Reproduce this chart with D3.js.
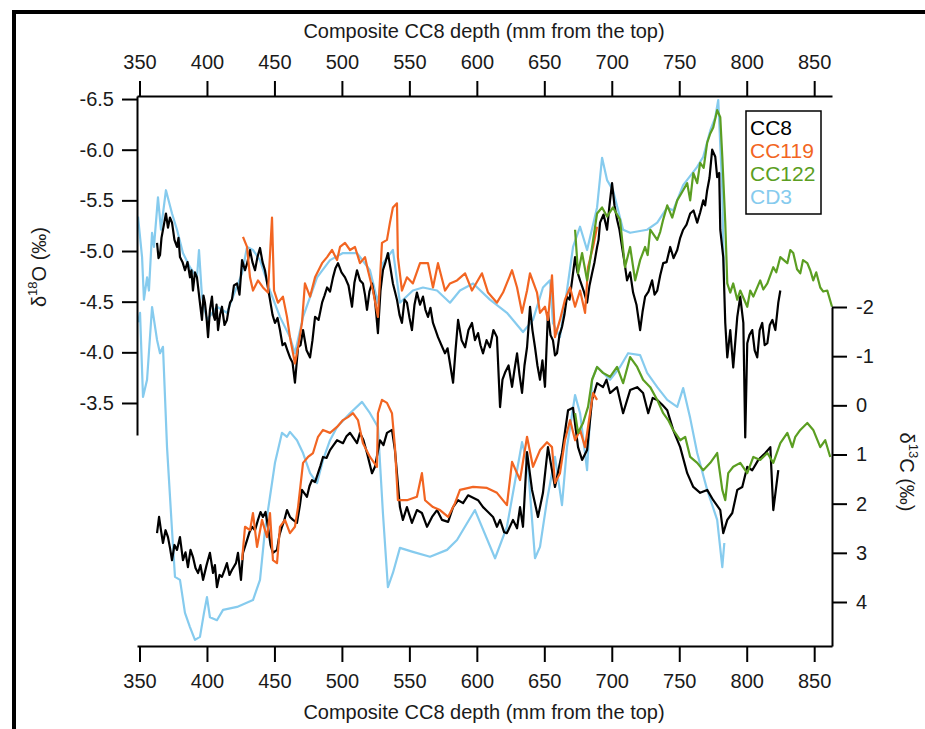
<!doctype html>
<html lang="en">
<head>
<meta charset="UTF-8">
<title>CC8 composite isotopes</title>
<script src="https://d3js.org/d3.v7.min.js"></script>
<style>
  body { margin: 0; background: #fff; }
  svg text { font-family: "Liberation Sans", Arial, sans-serif; fill: #1a1a1a; }
</style>
</head>
<body>
<div id="chart"></div>
<script>
// [depth (mm), value]
const cd3_d18O = [[348.9,-5.34],[351.9,-4.94],[353.3,-4.52],[355.6,-4.74],[357,-4.61],[359.3,-5.18],[360.7,-5.04],[363.7,-5.53],[365.9,-5.21],[369.6,-5.6],[374.1,-5.37],[377.8,-5.21],[382.2,-4.98],[387.4,-4.84],[392.6,-4.74],[394.1,-5.01],[396.3,-4.55],[400,-4.32],[407.4,-4.45],[414.8,-4.39],[419.3,-4.55],[426,-4.78],[429.7,-5.04],[434.1,-5.01],[439.3,-4.91],[446.7,-4.61],[454.1,-4.35],[461.5,-4.15],[465.2,-3.99],[471.2,-4.35],[481.6,-4.74],[491.2,-4.91],[500.8,-4.98],[511.2,-4.98],[520.8,-4.81],[526.7,-4.49],[530.4,-4.88],[537.8,-5.01],[543,-4.49],[552.6,-4.61],[560.1,-4.64],[570.5,-4.61],[580.1,-4.49],[587.5,-4.61],[597.2,-4.68],[609.7,-4.52],[622.3,-4.39],[634.2,-4.2],[641.6,-4.32],[649,-4.64],[654.2,-4.71],[656.4,-4.29],[661.6,-4.15],[666.8,-4.61],[671.3,-5.04],[676.5,-5.24],[681.7,-5.01],[689.1,-5.43],[692.8,-5.92],[696.5,-5.7],[700.9,-5.6],[708.4,-5.21],[713.6,-5.18],[726.2,-5.21],[733.7,-5.28],[741.1,-5.43],[745.5,-5.4],[752.9,-5.65],[763.3,-5.83],[767.8,-5.93],[773,-6.19],[776.7,-6.32],[778.9,-6.49],[781.9,-5.6],[782.6,-5.04],[783.4,-4.71]];

const cc8_d18O = [[363,-5.08],[364.1,-4.93],[365.2,-4.96],[366.3,-5.13],[367.4,-5.21],[368.5,-5.29],[369.6,-5.37],[371.1,-5.23],[372.6,-5.33],[374.1,-5.28],[375.9,-5.11],[377.8,-5.04],[378.9,-5.13],[380,-4.94],[381.9,-4.89],[383.7,-4.81],[385.6,-4.89],[387.4,-4.74],[388.5,-4.81],[389.6,-4.61],[391.1,-4.79],[392.6,-4.74],[394.5,-4.52],[396.3,-4.32],[397.4,-4.56],[398.5,-4.49],[399.7,-4.34],[400.8,-4.15],[402.2,-4.42],[403.7,-4.55],[404.8,-4.37],[405.9,-4.32],[407.1,-4.47],[408.2,-4.22],[409.7,-4.37],[411.1,-4.45],[413,-4.27],[414.8,-4.32],[416,-4.42],[417.1,-4.49],[418.5,-4.52],[420,-4.66],[422.3,-4.68],[424.1,-4.57],[426,-4.91],[428.2,-4.81],[430,-4.89],[431.9,-5.01],[433.7,-4.89],[435.6,-4.81],[437.4,-4.94],[439.3,-5.03],[441.2,-4.89],[443,-4.81],[444.9,-4.66],[446.7,-4.52],[448.6,-4.37],[450.4,-4.29],[452.3,-4.34],[454.1,-4.22],[456,-4.07],[457.8,-4.09],[459.6,-4.02],[461.5,-3.95],[463.4,-3.9],[465.2,-3.7],[467.5,-4.05],[469.3,-4.07],[471.2,-4.22],[473.8,-4.02],[476.4,-3.95],[478.2,-4.12],[480.1,-4.35],[482.7,-4.32],[485.3,-4.49],[487.1,-4.56],[489,-4.64],[491.2,-4.6],[493.4,-4.74],[495.2,-4.83],[497.1,-4.88],[499.7,-4.79],[502.3,-4.74],[504.9,-4.66],[507.5,-4.45],[509.3,-4.69],[511.2,-4.81],[513.4,-4.71],[515.6,-4.68],[517.1,-4.57],[518.6,-4.42],[520.4,-4.6],[522.3,-4.68],[524.5,-4.52],[526.7,-4.19],[528.6,-4.61],[530.4,-4.81],[532.3,-4.89],[534.1,-4.98],[536,-4.83],[537.8,-4.68],[539.3,-4.6],[540.8,-4.52],[542.7,-4.37],[544.5,-4.29],[546.4,-4.52],[548.2,-4.49],[550.1,-4.34],[551.9,-4.22],[553.8,-4.47],[555.6,-4.59],[557.9,-4.47],[560.1,-4.55],[561.9,-4.42],[563.8,-4.35],[565.6,-4.44],[567.5,-4.29],[569.4,-4.22],[571.2,-4.15],[573.8,-4.07],[576.4,-3.99],[578.3,-4.04],[580.1,-3.89],[582.4,-3.7],[584.2,-4.02],[586.1,-4.32],[588.7,-4.12],[591.3,-4.05],[593.8,-4.22],[596.4,-4.29],[598.6,-4.12],[600.9,-4.19],[602.7,-4.07],[604.6,-3.99],[607.2,-4.12],[609.7,-4.05],[612.3,-4.22],[614.9,-4.15],[617.2,-3.46],[619,-3.73],[620.9,-3.8],[623.5,-3.87],[626.1,-3.66],[627.9,-3.83],[629.8,-3.99],[631.6,-3.78],[633.5,-3.6],[635.3,-3.87],[637.2,-4.05],[639.4,-4.45],[641.2,-4.22],[643.1,-4.05],[644.9,-3.87],[646.8,-3.73],[648.6,-3.92],[650.5,-3.66],[652.7,-4.39],[654.6,-4.17],[656.4,-4.12],[657.9,-3.97],[659.4,-3.99],[661.2,-4.17],[663.1,-4.25],[664.9,-4.37],[666.8,-4.55],[668.7,-4.52],[670.6,-4.71],[672.8,-4.94],[674.6,-4.79],[676.5,-4.71],[679.1,-4.61],[681.7,-4.49],[683.5,-4.66],[685.4,-4.78],[687.2,-4.89],[689.1,-5.04],[690.2,-5.11],[691.3,-5.28],[693.9,-5.36],[696.5,-5.21],[698.3,-5.45],[700.2,-5.67],[702,-5.45],[703.9,-5.31],[705.7,-5.21],[707.6,-5.04],[709.4,-4.89],[711.3,-4.71],[713.6,-4.79],[715.8,-4.59],[718.3,-4.47],[721,-4.22],[722.8,-4.4],[724.7,-4.55],[727.2,-4.6],[729.9,-4.71],[731.7,-4.57],[733.7,-4.61],[735.9,-4.76],[738.1,-4.88],[740.6,-4.89],[743.3,-5.04],[745.8,-4.93],[748.5,-5.01],[750.7,-5.13],[752.9,-5.21],[755.4,-5.26],[758.1,-5.37],[760.6,-5.4],[763.3,-5.28],[765.5,-5.38],[767.8,-5.5],[769.2,-5.45],[770.7,-5.6],[772.4,-5.72],[774.4,-6],[776.7,-5.93],[778.1,-5.73],[779.6,-5.77],[780.4,-5.21],[782.6,-4.94],[784.1,-4.29],[785.6,-3.95],[787.8,-4.22],[790,-3.85],[793,-4.35],[795.2,-4.55],[797.5,-4.29],[798.9,-3.16],[800.4,-4.09],[802,-4.17],[804.1,-4.22],[805.9,-4.02],[807.8,-3.95],[809.6,-4.22],[811.5,-4.29],[813.3,-4.07],[815.3,-4.09],[817.1,-4.27],[819,-4.32],[821.2,-4.22],[823.4,-4.49],[824.9,-4.61]];

const cc119_d18O = [[426.7,-5.14],[429.7,-5.04],[431.9,-4.74],[434.1,-4.61],[437.8,-4.71],[441.5,-4.64],[445.2,-4.59],[448.2,-5.33],[449.7,-4.61],[452.6,-4.49],[456.3,-4.55],[459.3,-4.35],[461.5,-4.15],[465.2,-3.89],[467.5,-4.05],[470.4,-4.29],[472.6,-4.68],[476.4,-4.55],[480.1,-4.74],[485.3,-4.88],[489,-4.94],[492.7,-5.01],[496.4,-4.91],[498.6,-5.04],[502.3,-5.08],[506,-5.01],[509.7,-5.04],[513.4,-4.88],[517.1,-4.94],[519.3,-4.81],[523,-4.61],[526.7,-4.35],[529.7,-5.08],[533.4,-5.11],[535.6,-5.28],[537.8,-5.43],[540.8,-5.47],[541.5,-4.94],[544.5,-4.61],[548.2,-4.74],[552.6,-4.68],[557.9,-4.88],[563.8,-4.88],[567.5,-4.64],[571.2,-4.88],[576.4,-4.61],[580.1,-4.68],[585.3,-4.71],[591.3,-4.78],[596.4,-4.61],[603.8,-4.78],[608.3,-4.59],[614.9,-4.49],[619.4,-4.59],[626.1,-4.81],[629.8,-4.64],[633.5,-4.39],[637.2,-4.61],[639.4,-4.78],[644.6,-4.59],[646.8,-4.39],[650.5,-4.45],[652.7,-4.32],[655.7,-4.76],[657.9,-4.15],[661.6,-4.32],[665.3,-4.52],[669.1,-4.64],[672.8,-4.45],[676.5,-4.61],[680.2,-4.39],[682.4,-4.84],[686.1,-5.04],[689.1,-5.24]];

const cc122_d18O = [[672.8,-5.21],[675,-4.78],[678,-4.98],[681.7,-4.71],[685.4,-5.04],[689.1,-5.37],[692.8,-5.43],[696.5,-5.34],[700.9,-5.43],[706.1,-5.31],[709.8,-4.84],[713.6,-5.04],[717.3,-4.71],[721,-4.91],[724.7,-5.04],[726.6,-4.96],[728.5,-5.21],[733.7,-5.11],[735.9,-5.19],[738.1,-5.31],[741.1,-5.45],[744.8,-5.33],[748.5,-5.5],[752.9,-5.6],[755.9,-5.67],[758.1,-5.5],[760.4,-5.77],[763.3,-5.67],[765.5,-5.87],[768.1,-5.82],[770.7,-6.07],[773,-6.16],[775.2,-6.22],[778.1,-6.39],[780.4,-6.32],[781.9,-5.93],[784.1,-5.28],[785.6,-4.68],[787.8,-4.59],[790,-4.68],[793,-4.52],[795.2,-4.61],[800.4,-4.45],[802.6,-4.61],[804.9,-4.55],[810,-4.71],[812.3,-4.62],[815.3,-4.68],[819.7,-4.84],[821.9,-4.79],[824.9,-4.94],[830.1,-4.88],[832.3,-5.01],[834.5,-4.98],[837.3,-4.82],[839.7,-4.78],[841.7,-4.91],[844.9,-4.88],[847.1,-4.81],[849.3,-4.71],[851.5,-4.79],[854.5,-4.64],[856.7,-4.6],[859.7,-4.61],[863.2,-4.45]];

const cd3_d13C = [[348.9,-1.69],[350.4,-1.88],[352.6,-0.17],[355.6,-0.52],[359.3,-2],[363,-1.33],[365.2,-1.06],[367.4,-1.19],[370.4,0.85],[374.1,2.54],[376.3,3.49],[380,3.55],[383.7,4.22],[387.4,4.51],[391.1,4.77],[394.8,4.71],[397.8,4.22],[400,3.9],[402.2,4.31],[407.4,4.37],[411.9,4.16],[422.3,4.1],[434.1,3.96],[439.3,3.55],[443,2.54],[446.7,1.86],[450.4,1.17],[455.6,0.56],[459.3,0.64],[461.5,0.54],[466.7,0.71],[471.2,0.97],[476.4,1.38],[481.6,1.58],[486,1.11],[491.2,0.71],[496.4,0.44],[506,0.16],[514.9,-0.07],[520.8,0.16],[526.7,0.44],[530.4,2.19],[534.1,3.7],[537.8,3.41],[543,2.9],[552.6,2.98],[565.3,3.08],[577.9,2.94],[585.3,2.74],[598.6,2.13],[613.5,3.11],[622.3,2.47],[633.5,0.75],[637.9,1.25],[643.1,3.11],[646.8,2.88],[652,1.93],[657.9,1.05],[663.1,2.03],[666.8,0.85],[672.8,-0.21],[676.5,0.16],[681.7,1.32],[685.4,-0.52],[689.1,-0.78],[698.7,-0.52],[706.1,-0.78],[712.1,-1.06],[721,-1.02],[726.2,-0.66],[733.7,-0.37],[741.1,-0.11],[748.5,0.03],[752.9,-0.35],[758.1,0.26],[763.3,0.97],[770.7,1.72],[778.1,2.33],[781.9,3.29],[783.4,2.8]];

const cc8_d13C = [[363,2.6],[364.5,2.27],[365.9,2.54],[367.4,2.8],[369.3,2.54],[371.1,2.68],[372.6,2.9],[374.1,3.15],[375.9,2.84],[377.8,2.94],[380,2.68],[382.2,3.15],[384.1,2.99],[385.9,3.29],[387.8,2.94],[389.6,3.08],[391.5,3.31],[393.4,3.41],[395.2,3.25],[397.1,3.55],[399.7,3.25],[402.2,3],[404.5,3.41],[405.9,3.25],[407.4,3.7],[409.3,3.45],[411.1,3.49],[413,3.35],[414.8,3.21],[416.7,3.45],[418.5,3.35],[421.5,3.21],[423,3],[425.2,3.55],[426.7,3],[429.7,2.74],[431.5,2.58],[433.4,2.47],[435.6,2.54],[437.8,2.33],[439.7,2.17],[441.5,2.27],[443.4,2.17],[445.2,2.47],[447.1,2.84],[448.9,3],[451.9,2.94],[453.7,2.64],[455.6,2.47],[457.4,2.33],[459.3,2.13],[461.5,2.27],[463.8,2.33],[466.7,2.39],[468.9,2.03],[470.4,1.72],[474.1,1.86],[476,1.64],[477.8,1.52],[480.1,1.56],[482.3,1.38],[484.2,1.22],[486,1.05],[488.6,1.07],[491.2,0.91],[493.8,0.81],[496.4,0.71],[500.8,0.77],[503.4,0.63],[506,0.56],[511.2,0.77],[513.4,0.56],[516,0.71],[518.6,0.97],[522.3,1.38],[524.5,1.25],[528.2,0.71],[530.8,0.81],[533.4,0.56],[537.1,0.5],[539.3,0.91],[543,2.07],[545.2,2.33],[548.2,2.07],[551.9,2.39],[555.6,2.13],[559.3,2.19],[563.1,2.47],[566.8,2.27],[570.5,2.13],[574.2,2.33],[578.7,2.37],[582.4,2.07],[586.1,1.93],[589.8,1.99],[593.5,1.83],[597.2,1.88],[600.9,1.93],[604.6,2.07],[608.3,2.17],[612,2.27],[614.9,2.47],[617.2,2.33],[620.2,2.58],[622.3,2.6],[626.8,2.33],[629.8,2.5],[632,2.07],[634.2,2.47],[637.2,0.95],[640.9,1.72],[645.3,2.27],[649,1.78],[652.7,0.85],[657.9,1.66],[663.1,0.97],[667.6,0.1],[671.3,0.05],[675,0.85],[678,1.11],[681.7,0.91],[685.4,-0.11],[689.1,-0.45],[693.5,-0.37],[696.1,-0.52],[698.7,-0.25],[703.9,-0.37],[708.4,0.16],[713.6,-0.31],[718.8,-0.37],[723.2,-0.25],[727,0.16],[730.3,-0.15],[733.7,-0.11],[737.4,-0.01],[741.1,0.1],[745.5,0.5],[750.7,0.85],[755.9,1.38],[760.4,1.66],[765.5,1.78],[770.7,1.72],[775.2,1.93],[780.4,2.13],[782.6,2.6],[785.6,2.33],[789.3,2.19],[793,1.72],[796.7,1.66],[800.4,1.25],[804.1,1.32],[808.6,1.11],[813.8,0.97],[817.5,0.85],[819.7,2.13],[823.4,1.32]];

const cc119_d13C = [[426,3.15],[428.2,2.47],[431.9,2.54],[434.1,2.19],[437.1,2.88],[440.8,2.33],[444.5,2.68],[446.7,2.19],[448.9,3.15],[451.9,3.21],[454.1,2.47],[457.8,2.33],[461.5,2.6],[465.2,2.47],[467.5,2.07],[471.2,1.17],[474.9,1.05],[478.6,0.97],[482.3,0.64],[486,0.5],[491.2,0.56],[496.4,0.44],[500.8,0.3],[504.5,0.24],[508.2,0.16],[511.9,0.3],[515.6,0.77],[520.8,1.05],[526,1.25],[526.7,0.16],[529.7,-0.11],[533.4,-0.05],[537.1,0.16],[539.3,0.85],[541.5,1.93],[548.2,1.93],[555.6,1.86],[559.3,1.38],[561.6,1.93],[567.5,2.07],[572.7,2.13],[578.7,2.27],[583.8,1.99],[587.5,1.72],[597.2,1.66],[607.5,1.68],[614.9,1.78],[622.3,2.03],[626.1,1.15],[632,1.52],[637.2,0.64],[641.6,1.25],[646.8,0.91],[652,0.75],[655.7,0.85],[657.9,1.58],[661.6,1.38],[665.3,0.71],[669.1,0.3],[672.8,0.71],[676.5,0.5],[680.2,0.85],[683.9,0.16],[686.1,-0.25],[689.1,-0.11]];

const cc122_d13C = [[672.8,0.16],[675,0.56],[678.7,0.36],[682.4,0.03],[685.4,-0.52],[689.1,-0.78],[693.5,-0.66],[698.7,-0.58],[703.9,-0.78],[708.4,-0.45],[713.6,-0.98],[718.8,-0.78],[723.2,-0.52],[728.5,-0.37],[733.7,-0.11],[738.1,0.16],[741.8,0.3],[745.5,0.5],[750.7,0.71],[754.4,0.64],[758.1,1.05],[763.3,1.17],[767.8,1.32],[773,1.17],[778.1,0.97],[781.9,1.72],[784.1,1.93],[786.3,1.38],[790,1.25],[795.2,1.17],[800.4,1.38],[804.9,1.05],[810,1.11],[815.3,0.97],[819.7,1.17],[824.9,0.77],[830.1,0.56],[833.8,0.85],[836,0.64],[839.7,0.5],[844.9,0.36],[849.3,0.5],[854.5,0.85],[858.2,0.71],[861.9,1.05]];

const depthTicks = [350, 400, 450, 500, 550, 600, 650, 700, 750, 800, 850];
const d18OTicks = [-6.5, -6.0, -5.5, -5.0, -4.5, -4.0, -3.5];
const d13CTicks = [-2, -1, 0, 1, 2, 3, 4];
const seriesNames = ["CC8", "CC119", "CC122", "CD3"];
const seriesColors = ["#000000", "#f26522", "#5b9e22", "#86cbee"];

const W = 925, H = 729;
const svg = d3.select("#chart").append("svg")
  .attr("width", W)
  .attr("height", H);

// black frame round the figure
svg.append("rect")
  .attr("x", 14).attr("y", 12)
  .attr("width", W).attr("height", H)
  .attr("fill", "none")
  .attr("stroke", "#000")
  .attr("stroke-width", 4);

const x = d3.scaleLinear().domain([348.15, 863.2]).range([137, 832]);
const yO = d3.scaleLinear().domain([-6.53, -3.184]).range([96, 435]);
const yC = d3.scaleLinear().domain([-2, 4.895]).range([307, 646]);

const lineO = d3.line().x(d => x(d[0])).y(d => yO(d[1]));
const lineC = d3.line().x(d => x(d[0])).y(d => yC(d[1]));

// draw order: CD3 underneath, then CC8, CC119, CC122
const layers = [
  [cd3_d18O, lineO, seriesColors[3]],
  [cd3_d13C, lineC, seriesColors[3]],
  [cc8_d18O, lineO, seriesColors[0]],
  [cc8_d13C, lineC, seriesColors[0]],
  [cc119_d18O, lineO, seriesColors[1]],
  [cc119_d13C, lineC, seriesColors[1]],
  [cc122_d18O, lineO, seriesColors[2]],
  [cc122_d13C, lineC, seriesColors[2]]
];
layers.forEach(function(l) {
  svg.append("path")
    .datum(l[0])
    .attr("d", l[1])
    .attr("fill", "none")
    .attr("stroke", l[2])
    .attr("stroke-width", 2.2)
    .attr("stroke-linejoin", "round");
});

function styleAxis(g) {
  g.selectAll("path, line").attr("stroke", "#000").attr("stroke-width", 2);
  g.selectAll("text").attr("font-size", 20).attr("fill", "#1a1a1a");
}

svg.append("g")
  .attr("transform", "translate(0,96)")
  .call(d3.axisTop(x).tickValues(depthTicks).tickSize(15).tickSizeOuter(0).tickPadding(12))
  .call(styleAxis);

svg.append("g")
  .attr("transform", "translate(0,646)")
  .call(d3.axisBottom(x).tickValues(depthTicks).tickSize(16).tickSizeOuter(0).tickPadding(12))
  .call(styleAxis);

svg.append("g")
  .attr("transform", "translate(137,0)")
  .call(d3.axisLeft(yO).tickValues(d18OTicks).tickSize(15).tickSizeOuter(0).tickPadding(8)
    .tickFormat(d => d.toFixed(1)))
  .call(styleAxis);

svg.append("g")
  .attr("transform", "translate(832,0)")
  .call(d3.axisRight(yC).tickValues(d13CTicks).tickSize(15).tickSizeOuter(0).tickPadding(9)
    .tickFormat(d => String(d)))
  .call(styleAxis);

// axis titles
const xTitle = "Composite CC8 depth (mm from the top)";
svg.append("text").attr("x", 484).attr("y", 38)
  .attr("text-anchor", "middle").attr("font-size", 20).text(xTitle);
svg.append("text").attr("x", 484).attr("y", 719)
  .attr("text-anchor", "middle").attr("font-size", 20).text(xTitle);

const tL = svg.append("text")
  .attr("transform", "translate(46,267) rotate(-90)")
  .attr("text-anchor", "middle").attr("font-size", 20);
tL.append("tspan").text("δ");
tL.append("tspan").attr("font-size", 13).attr("dy", -9).text("18");
tL.append("tspan").attr("dy", 9).text("O (‰)");

const tR = svg.append("text")
  .attr("transform", "translate(900,472) rotate(90)")
  .attr("text-anchor", "middle").attr("font-size", 20);
tR.append("tspan").text("δ");
tR.append("tspan").attr("font-size", 13).attr("dy", -9).text("13");
tR.append("tspan").attr("dy", 9).text("C (‰)");

// legend
const legend = svg.append("g");
legend.append("rect")
  .attr("x", 746).attr("y", 111)
  .attr("width", 75).attr("height", 103)
  .attr("fill", "#fff").attr("stroke", "#000").attr("stroke-width", 1.5);
legend.selectAll("text.lg")
  .data(seriesNames)
  .enter().append("text")
  .attr("class", "lg")
  .attr("x", 750)
  .attr("y", (d, i) => 135 + i * 23)
  .attr("font-size", 21)
  .style("fill", (d, i) => seriesColors[i])
  .text(d => d);
</script>
</body>
</html>
